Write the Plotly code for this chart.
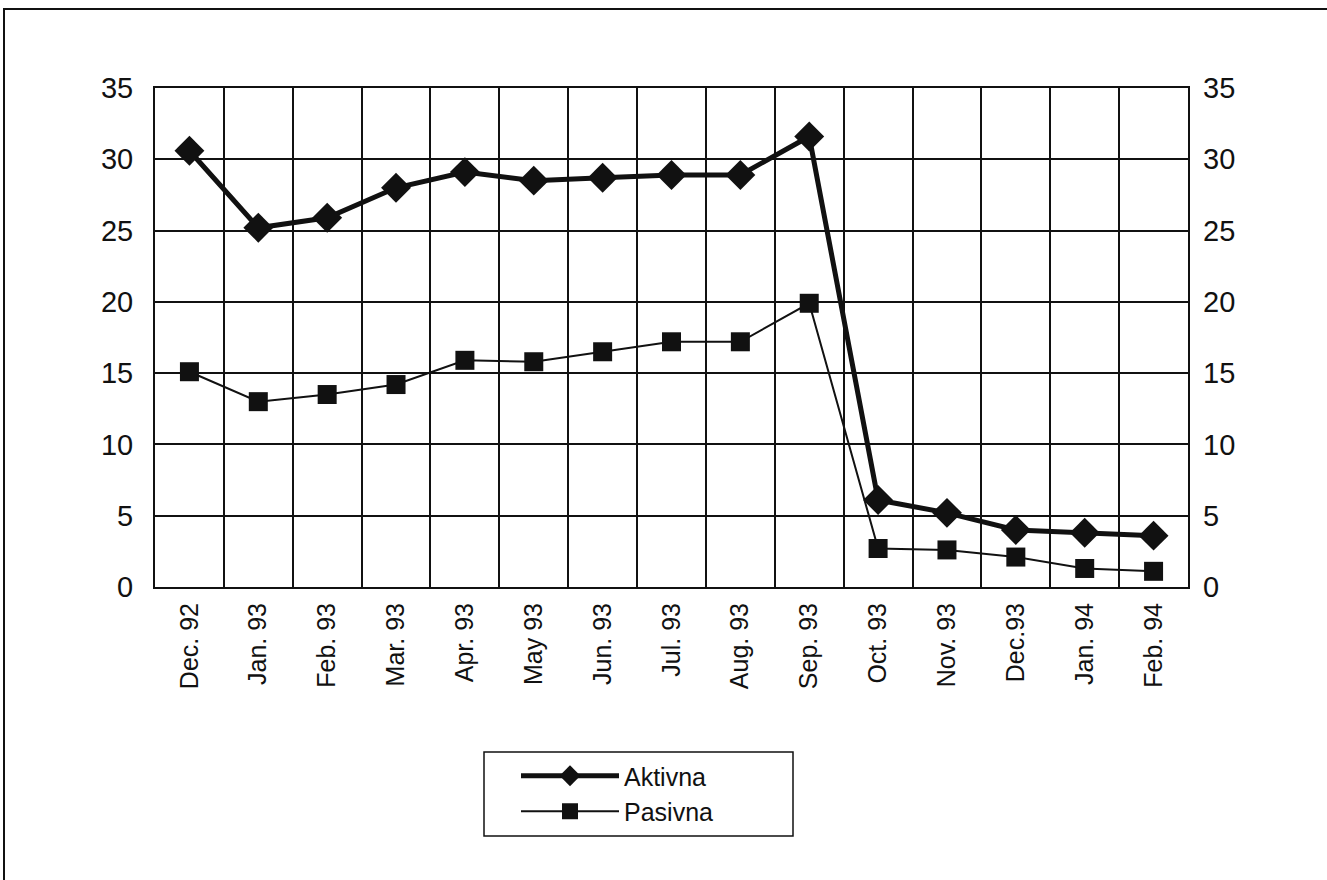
import plotly.graph_objects as go

months = ["Dec. 92", "Jan. 93", "Feb. 93", "Mar. 93", "Apr. 93", "May 93", "Jun. 93",
          "Jul. 93", "Aug. 93", "Sep. 93", "Oct. 93", "Nov. 93", "Dec.93", "Jan. 94", "Feb. 94"]
aktivna = [30.6, 25.2, 25.9, 28.0, 29.1, 28.5, 28.7, 28.9, 28.9, 31.6, 6.1, 5.2, 4.0, 3.8, 3.6]
pasivna = [15.1, 13.0, 13.5, 14.2, 15.9, 15.8, 16.5, 17.2, 17.2, 19.9, 2.7, 2.6, 2.1, 1.3, 1.1]
y_ticks = [0, 5, 10, 15, 20, 25, 30, 35]

W, H = 1327, 880
ML, MR, MT, MB = 155, 139, 88, 293
FONT = "Liberation Sans, Arial, sans-serif"
INK = "#111111"

fig = go.Figure()
fig.add_trace(go.Scatter(
    x=months, y=aktivna, name="Aktivna", mode="lines+markers",
    line=dict(color=INK, width=5),
    marker=dict(symbol="diamond", size=23, color=INK),
))
fig.add_trace(go.Scatter(
    x=months, y=pasivna, name="Pasivna", mode="lines+markers",
    line=dict(color=INK, width=2),
    marker=dict(symbol="square", size=19, color=INK),
))
# invisible trace so the right-hand value axis is rendered
fig.add_trace(go.Scatter(x=months, y=pasivna, yaxis="y2", mode="lines",
                         line=dict(width=0), showlegend=False, hoverinfo="skip",
                         opacity=0))

axis_common = dict(showline=True, linecolor=INK, linewidth=2, mirror=True,
                   showgrid=True, gridcolor=INK, gridwidth=2, zeroline=False)

pw, ph = W - ML - MR, H - MT - MB


def px_x(v):
    return (v - ML) / pw


def px_y(v):
    return (H - MB - v) / ph


fig.update_layout(
    width=W, height=H,
    margin=dict(l=ML, r=MR, t=MT, b=MB),
    paper_bgcolor="white", plot_bgcolor="white",
    font=dict(family=FONT, color=INK),
    xaxis=dict(type="category", tickson="boundaries", tickangle=-90,
               range=[-0.5, len(months) - 0.5],
               tickfont=dict(size=25), ticks="", ticklabelstandoff=4,
               **axis_common),
    yaxis=dict(range=[0, 35], tickvals=y_ticks, tickfont=dict(size=29),
               ticks="", ticklabelstandoff=14, **axis_common),
    yaxis2=dict(range=[0, 35], tickvals=y_ticks, tickfont=dict(size=29),
                overlaying="y", side="right", showgrid=False, zeroline=False,
                ticks="", ticklabelstandoff=14),
    legend=dict(x=px_x(516), xanchor="left",
                y=px_y(753), yanchor="top",
                borderwidth=0, bgcolor="rgba(0,0,0,0)",
                font=dict(size=25), itemwidth=98, tracegroupgap=0),
    showlegend=True,
)

# legend frame
fig.add_shape(type="rect", xref="paper", yref="paper",
              x0=px_x(484), x1=px_x(793), y0=px_y(836), y1=px_y(752),
              line=dict(color=INK, width=1.5), fillcolor="white", layer="below")

# outer frame around the whole chart
fig.add_shape(type="rect", xref="paper", yref="paper",
              x0=px_x(4), x1=px_x(W + 20), y0=px_y(H + 20), y1=px_y(9),
              line=dict(color=INK, width=2), layer="below")

fig.write_html("out.html")
